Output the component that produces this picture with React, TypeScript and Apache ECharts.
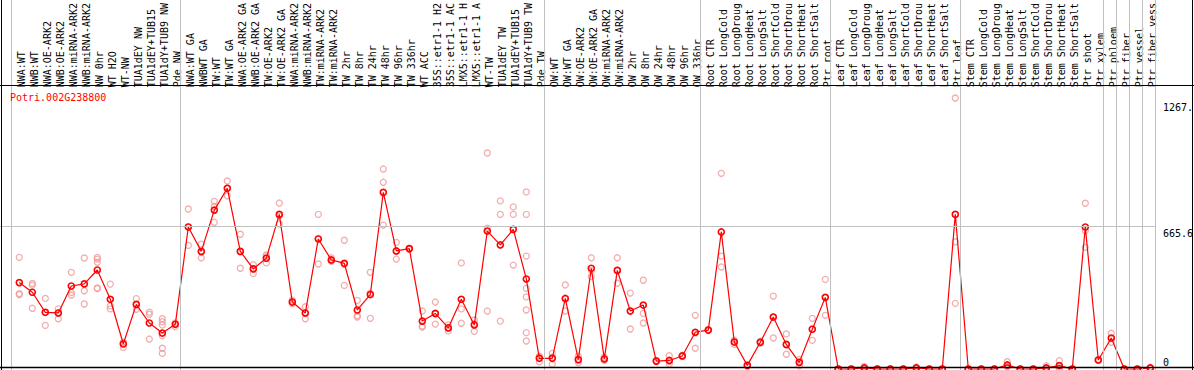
import React, { useEffect, useRef } from "react";
import * as echarts from "echarts";

const geneName = "Potri.002G238800";

const categories = [
  "NWA:WT", "NWB:WT", "NWA:OE-ARK2", "NWB:OE-ARK2", "NWA:miRNA-ARK2", "NWB:miRNA-ARK2",
  "NW 0hr", "WT H2O", "WT-NW", "TUA1dEY NW", "TUA1dEY+TUB15", "TUA1dY+TUB9 NW", "Pde NW",
  "NWA:WT GA", "NWBWT GA", "TW:WT", "TW:WT GA", "NWA:OE-ARK2 GA", "NWB:OE-ARK2 GA",
  "TW:OE-ARK2", "TW:OE-ARK2 GA", "NWA:miRNA-ARK2", "NWB:miRNA-ARK2", "TW:miRNA-ARK2",
  "TW:miRNA-ARK2", "TW 2hr", "TW 8hr", "TW 24hr", "TW 48hr", "TW 96hr", "TW 336hr",
  "WT ACC", "35S::etr1-1 H2", "35S::etr1-1 AC", "LMX5::etr1-1 H", "LMX5::etr1-1 A",
  "WT-TW", "TUA1dEY TW", "TUA1dEY+TUB15", "TUA1dY+TUB9 TW", "Pde TW",
  "OW:WT", "OW:WT GA", "OW:OE-ARK2", "OW:OE-ARK2 GA", "OW:miRNA-ARK2", "OW:miRNA-ARK2",
  "OW 2hr", "OW 8hr", "OW 24hr", "OW 48hr", "OW 96hr", "OW 336hr",
  "Root CTR", "Root LongCold", "Root LongDroug", "Root LongHeat", "Root LongSalt",
  "Root ShortCold", "Root ShortDrou", "Root ShortHeat", "Root ShortSalt", "Ptr root",
  "Leaf CTR", "Leaf LongCold", "Leaf LongDroug", "Leaf LongHeat", "Leaf LongSalt",
  "Leaf ShortCold", "Leaf ShortDrou", "Leaf ShortHeat", "Leaf ShortSalt", "Ptr leaf",
  "Stem CTR", "Stem LongCold", "Stem LongDroug", "Stem LongHeat", "Stem LongSalt",
  "Stem ShortCold", "Stem ShortDrou", "Stem ShortHeat", "Stem ShortSalt", "Ptr shoot",
  "Ptr xylem", "Ptr phloem", "Ptr fiber", "Ptr vessel", "Ptr fiber vess",
];

const means = [
  404, 359, 265, 262, 388, 398, 463, 326, 117, 302, 215, 168, 209,
  664, 550, 743, 845, 550, 468, 518, 723, 313, 262, 608, 510, 494, 276, 348, 826, 552, 563,
  224, 260, 192, 326, 206, 645, 580, 653, 421, 50,
  50, 330, 44, 471, 47, 461, 271, 299, 37, 40, 61, 172,
  182, 641, 126, 17, 125, 243, 115, 31, 186, 335,
  0, 0, 5, 0, 0, 0, 5, 0, 0, 723,
  0, 0, 0, 19, 0, 0, 5, 16, 0, 664, 42,
  145, 0, 0, 5,
];

const replicates = [
  [522, 352, 348], [400, 392, 284], [330, 265, 204], [281, 262, 235], [452, 358, 346],
  [519, 366, 304], [522, 514, 499, 379, 376], [397, 295, 281], [125, 101, 120],
  [329, 279, 300], [266, 256, 140], [235, 221, 206, 156, 97, 73], [198, 212, 215],
  [748, 578, 666], [584, 520, 546], [784, 686, 760], [879, 810, 846], [630, 471, 549],
  [488, 446, 470], [533, 496, 525], [776, 678, 715], [322, 305, 313], [291, 235, 260],
  [723, 491, 610], [520, 505, 505], [602, 391, 490], [321, 249, 243], [452, 237, 355],
  [935, 873, 673], [592, 514, 550], [565, 560, 563], [271, 201, 196], [313, 210, 257],
  [206, 178, 192], [496, 281, 214], [229, 176, 212], [1010, 659, 271], [786, 723, 224],
  [758, 723, 486], [828, 723, 528, 377, 337, 276, 170, 131], [34, 60, 55],
  [73, 22, 55], [393, 271, 327], [60, 30, 42], [520, 432, 461], [55, 40, 46],
  [520, 401, 462], [355, 187, 271], [415, 260, 215], [40, 35, 37], [62, 23, 36],
  [65, 58, 60], [251, 97, 168],
  [185, 180, 182], [915, 528, 477], [135, 115, 128], [15, 20, 16], [130, 120, 125],
  [341, 145, 243], [164, 69, 112], [45, 15, 33], [237, 134, 187], [419, 251, 335],
  [0, 0, 0], [0, 0, 0], [12, 2, 1], [0, 0, 0], [0, 0, 0], [0, 0, 0], [10, 3, 2],
  [0, 0, 0], [0, 0, 0], [1267.2, 595, 307],
  [0, 0, 0], [0, 0, 0], [0, 0, 0], [34, 12, 11], [0, 0, 0], [0, 0, 0], [15, 0, 0],
  [39, 5, 4], [0, 0, 0], [775, 647, 569], [45, 40, 41],
  [167, 125, 143], [0, 0, 0], [0, 0, 0], [8, 4, 3],
];

// first category index of each column group (last entry closes the final group)
const groupStarts = [0, 13, 41, 53, 63, 73, 84, 85, 86, 87, 88];
const gridValues = [665.6];
const tickValues = [1267.2, 665.6, 0];
const tickLabels = ["1267.", "665.6", "0"];

const W = 1194;
const H = 370;
const FONT = '10px "DejaVu Sans Mono", monospace';
const XMIN = -1.4846;
const XMAX = XMIN + W / 13;
const YMIN = -4.676;
const YMAX = 1725.45;
const LABEL_TOPS = [102, 228, 357];

export default function App() {
  const ref = useRef<HTMLDivElement>(null);

  useEffect(() => {
    if (!ref.current) return;
    const chart = echarts.init(ref.current, undefined, { renderer: "svg" });

    const meanData = means.map((v, i) => [i, v]);
    const repData: number[][] = [];
    replicates.forEach((arr, i) => arr.forEach((v) => repData.push([i, v])));

    const sepLines = groupStarts.map((g) => ({ xAxis: g - 0.62 }));
    const lastSep = groupStarts[groupStarts.length - 1] - 0.62;
    const hLines = gridValues.map((v) => [
      { coord: [XMIN, v] },
      { coord: [lastSep, v] },
    ]);

    const graphics: any[] = [
      {
        type: "text",
        left: 10,
        top: 92,
        z: 100,
        style: { text: geneName, fill: "#ff0000", font: FONT },
      },
      ...tickLabels.map((t, k) => ({
        type: "text",
        left: 1163,
        top: LABEL_TOPS[k],
        z: 100,
        style: { text: t, fill: "#000", font: FONT },
      })),
      { type: "line", z: 100, shape: { x1: 1.5, y1: 0, x2: 1.5, y2: H }, style: { stroke: "#000", lineWidth: 1 } },
      { type: "line", z: 100, shape: { x1: 1192.5, y1: 0, x2: 1192.5, y2: H }, style: { stroke: "#000", lineWidth: 1 } },
      { type: "line", z: 100, shape: { x1: 0, y1: 85.5, x2: W, y2: 85.5 }, style: { stroke: "#000", lineWidth: 1 } },
      { type: "line", z: 100, shape: { x1: 0, y1: 367.5, x2: W, y2: 367.5 }, style: { stroke: "#000", lineWidth: 1.5 } },
    ];

    chart.setOption({
      animation: false,
      backgroundColor: "#ffffff",
      grid: [
        { left: 0, right: 0, top: 0, bottom: 0 },
        { left: 14.8, right: 35.2, top: 85, height: 10 },
      ],
      xAxis: [
        { type: "value", gridIndex: 0, min: XMIN, max: XMAX, show: false },
        {
          type: "category",
          gridIndex: 1,
          data: categories,
          position: "top",
          boundaryGap: true,
          axisLine: { show: false },
          axisTick: { show: false },
          splitLine: { show: false },
          axisLabel: {
            interval: 0,
            rotate: 90,
            margin: 2,
            color: "#000",
            fontSize: 10,
            fontFamily: '"DejaVu Sans Mono", monospace',
          },
        },
      ],
      yAxis: [
        { type: "value", gridIndex: 0, min: YMIN, max: YMAX, show: false },
        { type: "value", gridIndex: 1, show: false },
      ],
      graphic: graphics,
      series: [
        {
          type: "line",
          xAxisIndex: 0,
          yAxisIndex: 0,
          data: [],
          silent: true,
          z: 1,
          markLine: {
            silent: true,
            symbol: "none",
            label: { show: false },
            lineStyle: { color: "#c0c0c0", width: 1, type: "solid" },
            data: [...sepLines, ...hLines],
          },
        },
        {
          type: "scatter",
          xAxisIndex: 0,
          yAxisIndex: 0,
          data: repData,
          symbol: "circle",
          symbolSize: 6,
          z: 2,
          silent: true,
          itemStyle: { color: "rgba(0,0,0,0)", borderColor: "#ef9a9a", borderWidth: 1.3 },
        },
        {
          type: "line",
          xAxisIndex: 0,
          yAxisIndex: 0,
          data: meanData,
          symbol: "circle",
          symbolSize: 6,
          showSymbol: true,
          z: 3,
          silent: true,
          lineStyle: { color: "#ff0000", width: 1.2 },
          itemStyle: { color: "rgba(0,0,0,0)", borderColor: "#ff0000", borderWidth: 1.6 },
        },
      ],
    });

    return () => chart.dispose();
  }, []);

  return (
    <div
      ref={ref}
      style={{ position: "absolute", left: 0, top: 0, width: W, height: H }}
    />
  );
}
